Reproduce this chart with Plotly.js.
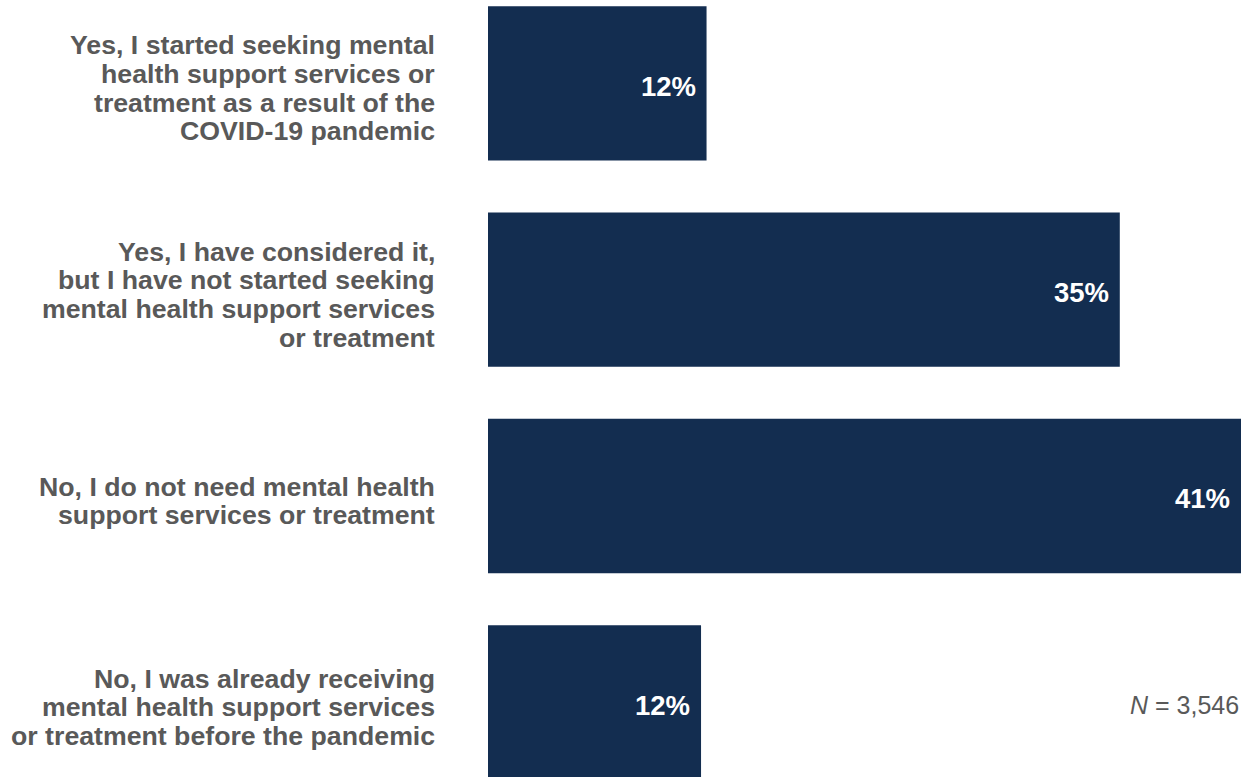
<!DOCTYPE html>
<html>
<head>
<meta charset="utf-8">
<script src="https://cdn.plot.ly/plotly-3.0.1.min.js"></script>
<style>
  html, body { margin: 0; padding: 0; background: #ffffff; }
  #chart { width: 1251px; height: 777px; }
</style>
</head>
<body>
<div id="chart"></div>
<script>
// ---- Data ----
const categoryLines = [
  ["Yes, I started seeking mental", "health support services or", "treatment as a result of the", "COVID-19 pandemic"],
  ["Yes, I have considered it,", "but I have not started seeking", "mental health support services", "or treatment"],
  ["No, I do not need mental health", "support services or treatment"],
  ["No, I was already receiving", "mental health support services", "or treatment before the pandemic"]
];
const values = [11.9, 34.4, 41.0, 11.6];
const valueLabels = ["12%", "35%", "41%", "12%"];
const sampleNote = "<i>N</i> = 3,546";

// ---- Build ----
const categories = categoryLines.map(l => l.join(" "));
const FONT = "Liberation Sans, Arial, Helvetica, sans-serif";
const LABEL_COLOR = "#595959";
const BAR_COLOR = "#132d50";
const LINE_H = 28.7;

const trace = {
  type: "bar",
  orientation: "h",
  x: values,
  y: categories,
  marker: { color: BAR_COLOR, line: { width: 0 } },
  hoverinfo: "skip",
  showlegend: false
};

const annotations = [];
categoryLines.forEach((lines, i) => {
  const n = lines.length;
  lines.forEach((line, j) => {
    annotations.push({
      xref: "x", yref: "y",
      x: 0, y: categories[i],
      xanchor: "right", yanchor: "middle",
      xshift: -51,
      yshift: -((j - (n - 1) / 2) * LINE_H) - 5,
      text: "<b>" + line + "</b>",
      showarrow: false,
      align: "right",
      font: { family: FONT, size: 26.7, color: LABEL_COLOR }
    });
  });
});
values.forEach((v, i) => {
  annotations.push({
    xref: "x", yref: "y",
    x: v, y: categories[i],
    xanchor: "right", yanchor: "middle",
    xshift: -9, yshift: -3,
    text: "<b>" + valueLabels[i] + "</b>",
    showarrow: false,
    font: { family: FONT, size: 27.5, color: "#ffffff" }
  });
});
annotations.push({
  xref: "paper", yref: "y",
  x: 1, y: categories[3],
  xanchor: "right", yanchor: "middle",
  xshift: 0, yshift: -3,
  text: sampleNote,
  showarrow: false,
  font: { family: FONT, size: 25, color: LABEL_COLOR }
});

const layout = {
  width: 1251,
  height: 777,
  margin: { l: 488, r: 10, t: 0, b: 0, pad: 0 },
  paper_bgcolor: "#ffffff",
  plot_bgcolor: "#ffffff",
  bargap: 0.252,
  xaxis: {
    range: [0, 41],
    visible: false,
    showgrid: false,
    zeroline: false,
    fixedrange: true
  },
  yaxis: {
    type: "category",
    categoryorder: "array",
    categoryarray: categories,
    range: [3.362, -0.404],
    showticklabels: false,
    showgrid: false,
    zeroline: false,
    ticks: "",
    fixedrange: true
  },
  annotations: annotations,
  font: { family: FONT }
};

Plotly.newPlot("chart", [trace], layout, { displayModeBar: false, staticPlot: true });
</script>
</body>
</html>
